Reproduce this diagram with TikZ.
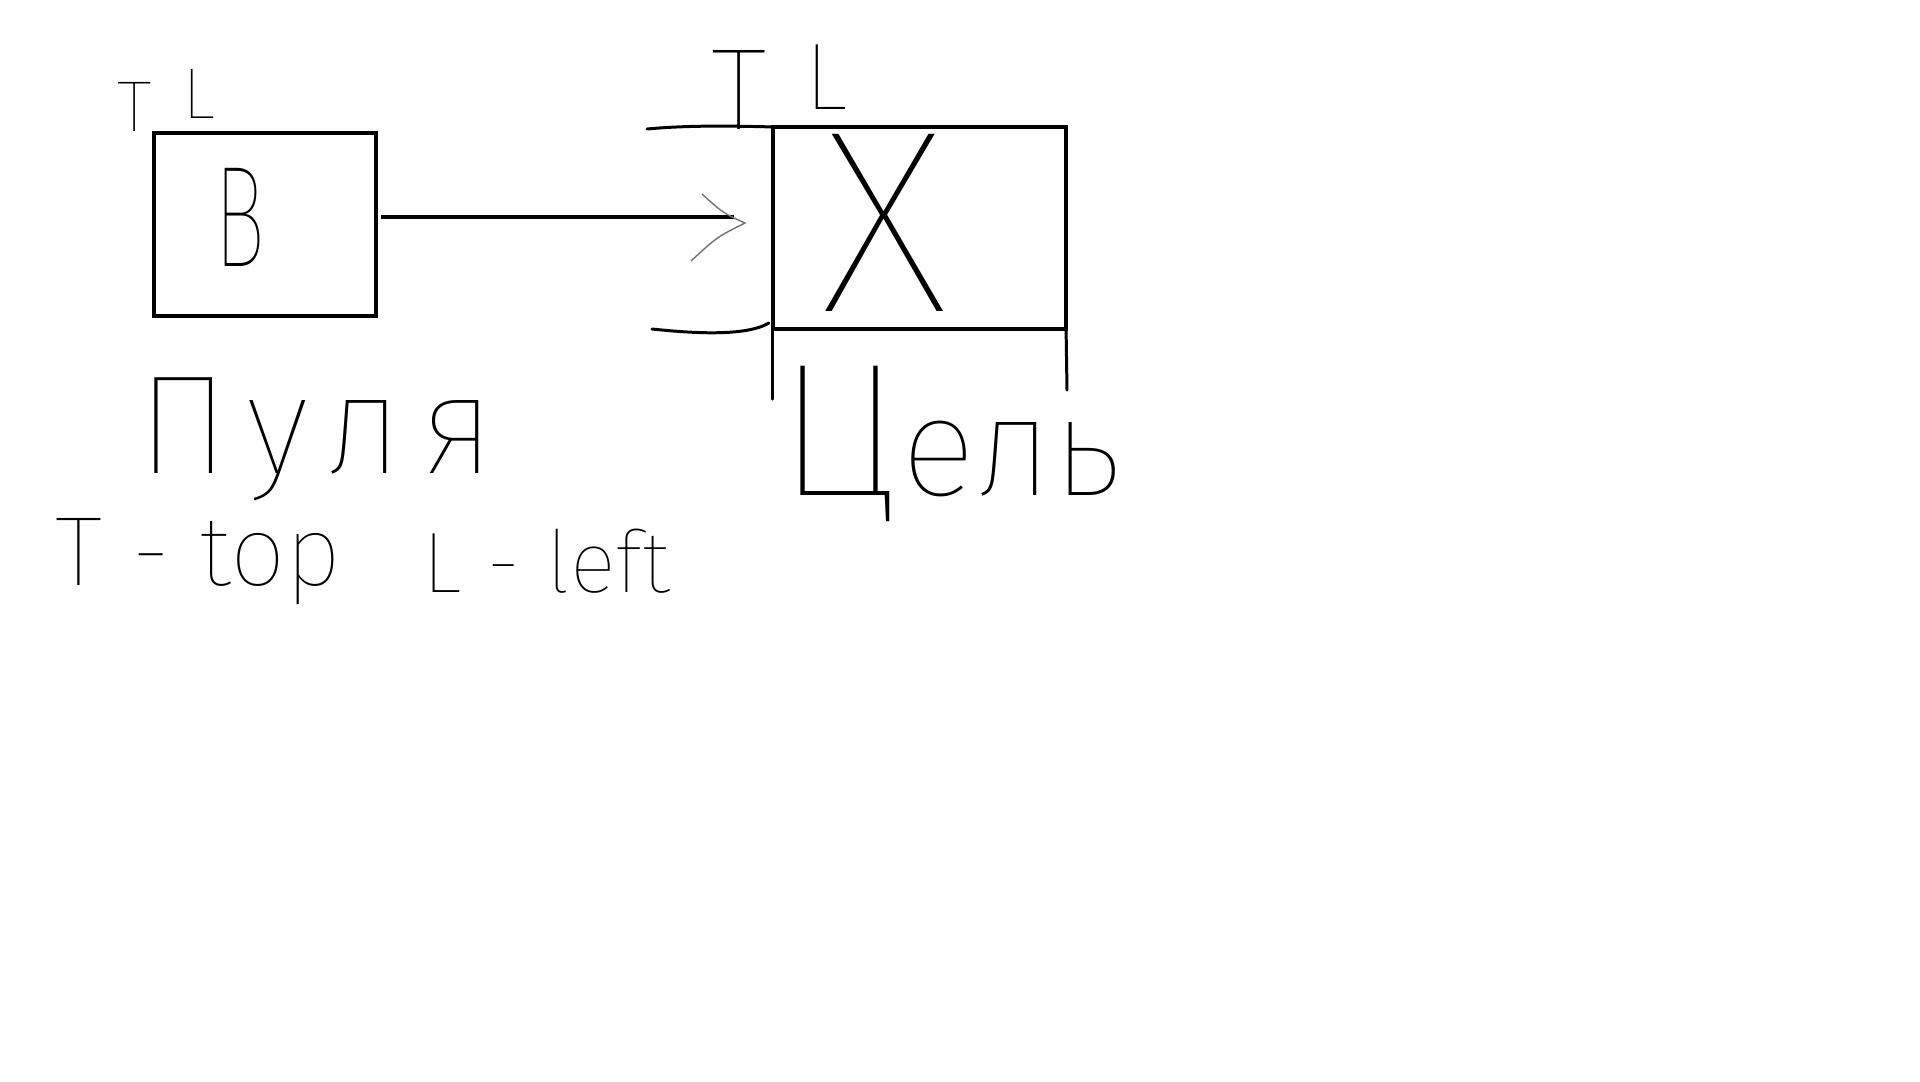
\documentclass[tikz,border=0pt]{standalone}
\usepackage{fontspec}
\usepackage{graphicx}
\IfFontExistsTF{FiraSans-Thin.ttf}{\newfontfamily\hand{FiraSans-Thin.ttf}}{%
 \IfFontExistsTF{Fira Sans Thin}{\newfontfamily\hand{Fira Sans Thin}}{%
  \IfFontExistsTF{DejaVuSans-ExtraLight.ttf}{\newfontfamily\hand{DejaVuSans-ExtraLight.ttf}}{%
   \IfFontExistsTF{DejaVu Sans ExtraLight}{\newfontfamily\hand{DejaVu Sans ExtraLight}}{%
    \newfontfamily\hand{DejaVu Sans}}}}}
\usetikzlibrary{calc}
\begin{document}
\begin{tikzpicture}[x=0.01cm,y=-0.01cm,
  box/.style={draw=black, line width=1.3pt, inner sep=0pt, outer sep=0pt},
  hline/.style={draw=black, line width=0.85pt, line cap=round},
  lab/.style={inner sep=0pt, outer sep=0pt, anchor=base west},
  arrowline/.style={draw=black, line width=1.2pt},
  barb/.style={draw=black!55, line width=0.4pt}]
\fill[white] (0,0) rectangle (1920,1081);
\useasboundingbox (0,0) rectangle (1920,1081);
% boxes
\node[box, minimum width=2.22cm, minimum height=1.83cm] (bullet) at (265,224.5) {};
\node[box, minimum width=2.93cm, minimum height=2.02cm] (target) at (919.5,228) {};
% letters in boxes
\node[lab, font={\hand\fontsize{41}{45}\selectfont}] (bletter) at (214,266) {\scalebox{0.6}[1]{B}};
\node[lab, anchor=base, font={\hand\fontsize{74}{80}\selectfont}] (xletter) at (885,311) {\smash{X}};
% TL labels
\node[lab, font={\hand\fontsize{20.5}{24}\selectfont}] (tl1) at (117,131) {T\hspace{9pt}\raisebox{3.5pt}{L}};
\node[lab, font={\hand\fontsize{27}{30}\selectfont}] (tl2) at (711,129) {{\fontsize{33}{36}\selectfont T}\hspace{11pt}\raisebox{5.5pt}{L}};
% arrow
\coordinate (arrowend) at (734,217);
\coordinate (tip) at (745,223);
\draw[arrowline] ($(bullet.east |- arrowend)+(5,0)$) -- (arrowend);
\draw[barb] ($(tip)+(-43,-29)$) .. controls ($(tip)+(-22,-10)$) .. (tip)
            .. controls ($(tip)+(-28,14)$) .. ($(tip)+(-54,38)$);
% hand lines at target
\draw[hline] (647,129) .. controls (690,125) and (735,126) .. (target.north west);
\draw[hline] (652,329) .. controls (690,333) and (745,337) .. ($(target.south west)+(-4,-6)$);
\draw[hline] (target.south west) -- ++(0,70);
\draw[hline] (target.south east) -- (1067,390);
% captions
\node[lab, font={\hand\fontsize{40}{44}\selectfont\addfontfeature{LetterSpace=12}}] (bulletname) at (137,473) {Пуля};
\node[lab, font={\hand\fontsize{40}{44}\selectfont}] (targetname) at (777,495) {{\fontsize{54}{58}\selectfont Ц}ель};
\node[lab, font={\hand\fontsize{28}{32}\selectfont}] (legendt) at (55,585) {T - top};
\node[lab, font={\hand\fontsize{24.5}{28}\selectfont}] (legendl) at (422,592) {L - left};
\end{tikzpicture}
\end{document}
